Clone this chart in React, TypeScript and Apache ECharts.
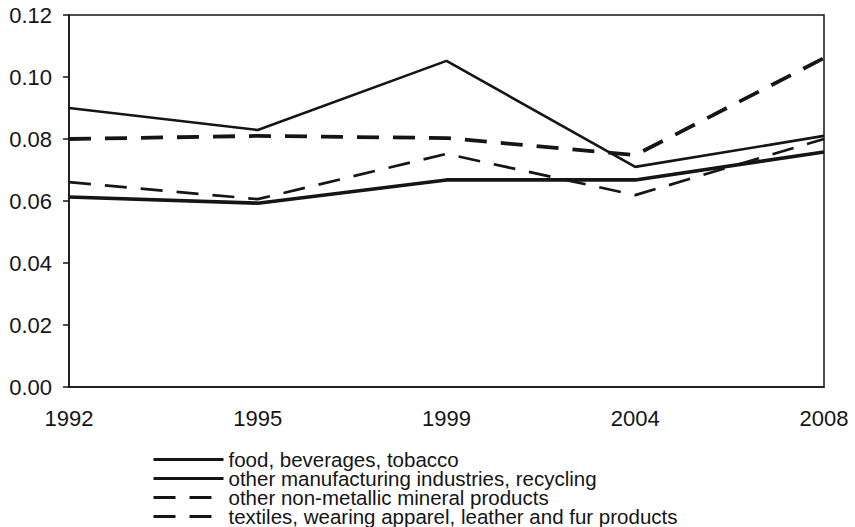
import React, { useEffect, useRef } from "react";
import * as echarts from "echarts";

const categories = ["1992", "1995", "1999", "2004", "2008"];
const foodValues = [0.0613, 0.0593, 0.0668, 0.0668, 0.0758];
const otherManufacturingValues = [0.09, 0.0829, 0.1052, 0.071, 0.081];
const nonMetallicValues = [0.08, 0.081, 0.0803, 0.0748, 0.1061];
const textilesValues = [0.0661, 0.0606, 0.0752, 0.0619, 0.08];
const seriesNames = [
  "food, beverages, tobacco",
  "other manufacturing industries, recycling",
  "other non-metallic mineral products",
  "textiles, wearing apparel, leather and fur products",
];

const INK = "#151515";
const FONT = "'Liberation Sans', Arial, sans-serif";

export default function App() {
  const ref = useRef<HTMLDivElement>(null);
  useEffect(() => {
    if (!ref.current) return;
    const chart = echarts.init(ref.current, undefined, { renderer: "svg" });
    const mk = (name: string, data: number[], width: number, dashed: boolean) => ({
      name,
      type: "line",
      data,
      symbol: "none",
      lineStyle: {
        color: INK,
        width,
        type: dashed ? [22, 14] : "solid",
      },
      itemStyle: { color: INK },
    });
    chart.setOption({
      animation: false,
      backgroundColor: "#ffffff",
      textStyle: { fontFamily: FONT },
      grid: {
        left: 69,
        right: 31,
        top: 15,
        bottom: 140,
        show: true,
        borderColor: INK,
        borderWidth: 1.5,
        backgroundColor: "transparent",
      },
      legend: {
        orient: "vertical",
        left: 152,
        top: 449,
        height: 120,
        padding: 0,
        itemGap: -2,
        itemWidth: 70,
        itemHeight: 14,
        data: seriesNames,
        itemStyle: { opacity: 0 },
        lineStyle: { width: 3 },
        textStyle: {
          fontFamily: FONT,
          fontSize: 20.5,
          color: INK,
        },
      },
      xAxis: {
        type: "category",
        data: categories,
        boundaryGap: false,
        axisLine: { show: true, lineStyle: { color: INK, width: 1.5 } },
        axisTick: { show: false },
        axisLabel: { fontSize: 22, color: INK, margin: 20, fontFamily: FONT },
        splitLine: { show: false },
      },
      yAxis: {
        type: "value",
        min: 0,
        max: 0.12,
        interval: 0.02,
        axisLine: { show: true, lineStyle: { color: INK, width: 1.5 } },
        axisTick: { show: true, length: 6, lineStyle: { color: INK, width: 1.5 } },
        axisLabel: {
          fontSize: 22,
          color: INK,
          margin: 17,
          fontFamily: FONT,
          formatter: (v: number) => v.toFixed(2),
        },
        splitLine: { show: false },
      },
      series: [
        mk(seriesNames[0], foodValues, 3.6, false),
        mk(seriesNames[1], otherManufacturingValues, 2.6, false),
        mk(seriesNames[2], nonMetallicValues, 3.8, true),
        mk(seriesNames[3], textilesValues, 2.7, true),
      ],
    });
    return () => chart.dispose();
  }, []);
  return (
    <div
      ref={ref}
      style={{ position: "fixed", left: 0, top: 0, width: 855, height: 527, background: "#fff" }}
    />
  );
}
